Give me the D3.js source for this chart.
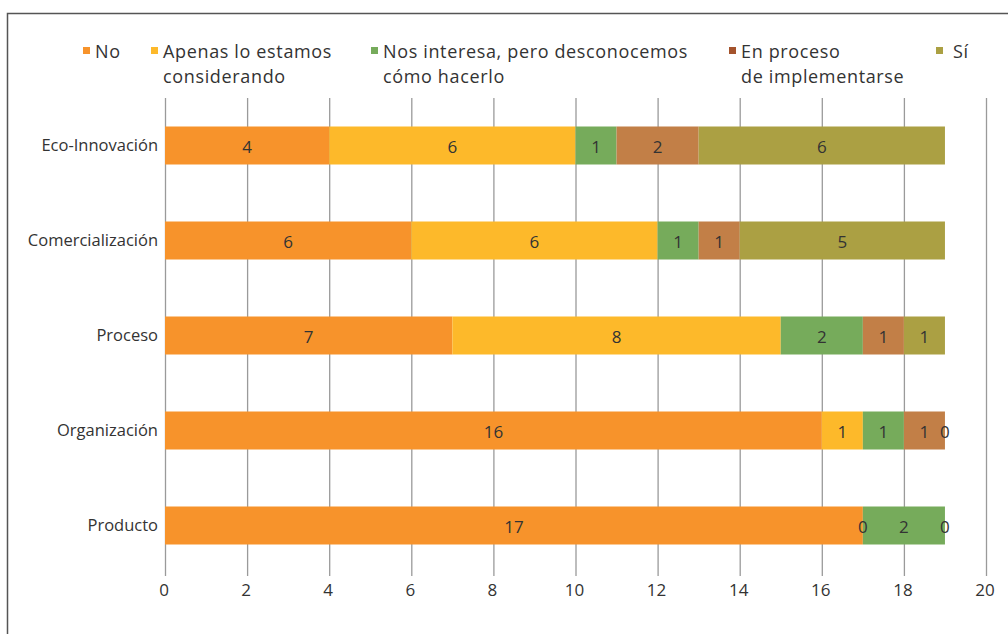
<!DOCTYPE html>
<html>
<head>
<meta charset="utf-8">
<script src="https://cdn.jsdelivr.net/npm/d3@7"></script>
<style>
  body { margin: 0; background: #fff; }
  svg { display: block; font-family: 'Open Sans', Lato, sans-serif; }
</style>
</head>
<body>
<div id="chart"></div>
<script>
// Respuestas por tipo de innovación
const categories = ['Eco-Innovación', 'Comercialización', 'Proceso', 'Organización', 'Producto']
const seriesNames = [
  ['No'],
  ['Apenas lo estamos', 'considerando'],
  ['Nos interesa, pero desconocemos', 'cómo hacerlo'],
  ['En proceso', 'de implementarse'],
  ['Sí']
]
const noValues = [4, 6, 7, 16, 17]
const apenasValues = [6, 6, 8, 1, 0]
const interesaValues = [1, 1, 2, 1, 2]
const procesoValues = [2, 1, 1, 1, 0]
const siValues = [6, 5, 1, 0, null]
const xTicks = [0, 2, 4, 6, 8, 10, 12, 14, 16, 18, 20]

const barColors = ['#F7932B', '#FDB92A', '#76AB5B', '#C27F47', '#ABA043']
const legendColors = ['#F7932B', '#FDB92A', '#76AB5B', '#A4532C', '#ABA043']

const width = 1008
const height = 634
const margin = { top: 98, right: 22, bottom: 60, left: 165 }

const svg = d3.select('#chart').append('svg')
  .attr('width', width)
  .attr('height', height)

// Frame
svg.append('path')
  .attr('d', `M7.5,${height} V13.5 H${width}`)
  .attr('fill', 'none')
  .attr('stroke', '#555')
  .attr('stroke-width', 1.5)

const allSeries = [noValues, apenasValues, interesaValues, procesoValues, siValues]
const rows = categories.map((c, i) => {
  let acc = 0
  const segs = allSeries.map((vals, s) => {
    const v = vals[i]
    const seg = { s, v, x0: acc, x1: acc + (v || 0) }
    acc += v || 0
    return seg
  })
  return { name: c, segs }
})

const x = d3.scaleLinear().domain([0, 20]).range([margin.left, 986])
const y = d3.scaleBand().domain(categories).range([margin.top, 573]).paddingInner(0.6).paddingOuter(0.3)

// Gridlines
svg.append('g')
  .selectAll('line')
  .data(xTicks)
  .join('line')
  .attr('x1', d => x(d) + 0.5)
  .attr('x2', d => x(d) + 0.5)
  .attr('y1', margin.top)
  .attr('y2', 576)
  .attr('stroke', '#9a9a9a')
  .attr('stroke-width', 1.3)

// Tick labels
svg.append('g')
  .selectAll('text')
  .data(xTicks)
  .join('text')
  .attr('x', d => x(d) - 1)
  .attr('y', 596)
  .attr('text-anchor', 'middle')
  .attr('font-size', 17)
  .attr('fill', '#333')
  .text(d => d)

// Bars
const rowG = svg.append('g')
  .selectAll('g')
  .data(rows)
  .join('g')
  .attr('transform', d => `translate(0,${y(d.name)})`)

rowG.selectAll('rect')
  .data(d => d.segs.filter(s => s.v))
  .join('rect')
  .attr('x', d => x(d.x0))
  .attr('width', d => x(d.x1) - x(d.x0))
  .attr('height', y.bandwidth())
  .attr('fill', d => barColors[d.s])

rowG.selectAll('text.val')
  .data(d => d.segs.filter(s => s.v !== null))
  .join('text')
  .classed('val', true)
  .attr('x', d => x((d.x0 + d.x1) / 2))
  .attr('y', y.bandwidth() / 2 + 7)
  .attr('text-anchor', 'middle')
  .attr('font-size', 17)
  .attr('fill', '#333')
  .text(d => d.v)

// Category labels
svg.append('g')
  .selectAll('text')
  .data(categories)
  .join('text')
  .attr('x', 158)
  .attr('y', d => y(d) + y.bandwidth() / 2 + 5)
  .attr('text-anchor', 'end')
  .attr('font-size', 16.5)
  .attr('fill', '#333')
  .text(d => d)

// Legend
const legendX = [83, 151, 371, 729, 936]
const legend = svg.append('g')
  .selectAll('g')
  .data(seriesNames)
  .join('g')
  .attr('transform', (d, i) => `translate(${legendX[i]},0)`)

legend.append('rect')
  .attr('x', 0)
  .attr('y', 47)
  .attr('width', 7)
  .attr('height', 7)
  .attr('fill', (d, i) => legendColors[i])

legend.each(function(lines, i) {
  d3.select(this).selectAll('text')
    .data(lines)
    .join('text')
    .attr('x', i === 4 ? 17 : 12)
    .attr('y', (d, j) => 58 + j * 24.5)
    .attr('font-size', 18)
    .attr('letter-spacing', 0.65)
    .attr('fill', '#333')
    .text(d => d)
})
</script>
</body>
</html>
